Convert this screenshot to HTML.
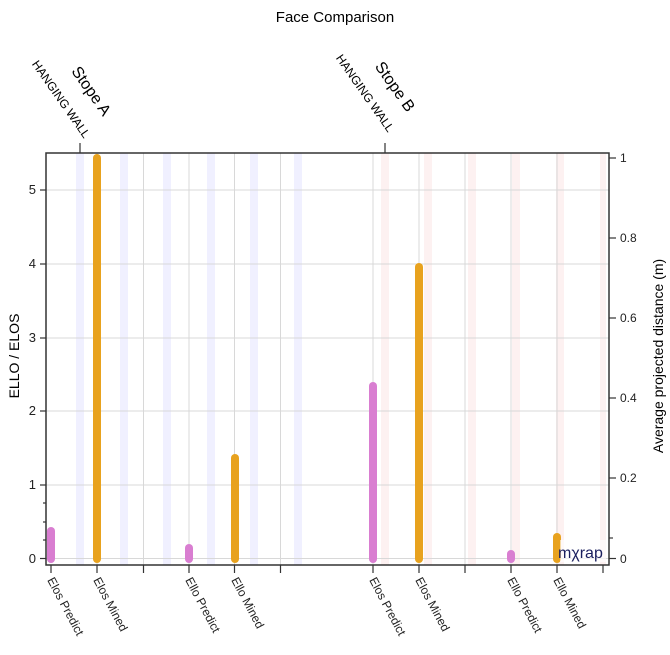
<!DOCTYPE html>
<html><head><meta charset="utf-8"><style>
body{margin:0;background:#fff}
svg{display:block;font-family:"Liberation Sans",sans-serif}
</style></head><body>
<svg width="670" height="655" viewBox="0 0 670 655">
<text x="335" y="22" font-size="15" text-anchor="middle">Face Comparison</text>
<g fill="#f0f0ff">
<rect x="76" y="153" width="8" height="412"/><rect x="120" y="153" width="8" height="412"/><rect x="163" y="153" width="8" height="412"/><rect x="207" y="153" width="8" height="412"/><rect x="250" y="153" width="8" height="412"/><rect x="294" y="153" width="8" height="412"/>
</g>
<g fill="#fdf1f1">
<rect x="381" y="153" width="8" height="412"/><rect x="424" y="153" width="8" height="412"/><rect x="468" y="153" width="8" height="412"/><rect x="512" y="153" width="8" height="412"/><rect x="556" y="153" width="8" height="412"/><rect x="600" y="153" width="6" height="412"/>
</g>
<g stroke="#d8d8d8" stroke-width="1">
<line x1="46" x2="609" y1="558.5" y2="558.5"/><line x1="46" x2="609" y1="485" y2="485"/><line x1="46" x2="609" y1="411" y2="411"/><line x1="46" x2="609" y1="338" y2="338"/><line x1="46" x2="609" y1="264" y2="264"/><line x1="46" x2="609" y1="190" y2="190"/>
<line x1="97" x2="97" y1="153" y2="565"/><line x1="143.5" x2="143.5" y1="153" y2="565"/><line x1="189" x2="189" y1="153" y2="565"/><line x1="234.5" x2="234.5" y1="153" y2="565"/><line x1="280.5" x2="280.5" y1="153" y2="565"/><line x1="373" x2="373" y1="153" y2="565"/><line x1="419" x2="419" y1="153" y2="565"/><line x1="465" x2="465" y1="153" y2="565"/><line x1="511" x2="511" y1="153" y2="565"/><line x1="557" x2="557" y1="153" y2="565"/>
</g>
<g stroke-width="8" stroke-linecap="round">
<line x1="51" x2="51" y1="559" y2="531" stroke="#d97ed1"/>
<line x1="97" x2="97" y1="559" y2="158" stroke="#e8a21e"/>
<line x1="189" x2="189" y1="559" y2="548" stroke="#d97ed1"/>
<line x1="235" x2="235" y1="559" y2="458" stroke="#e8a21e"/>
<line x1="373" x2="373" y1="559" y2="386" stroke="#d97ed1"/>
<line x1="419" x2="419" y1="559" y2="267" stroke="#e8a21e"/>
<line x1="511" x2="511" y1="559" y2="554" stroke="#d97ed1"/>
<line x1="557" x2="557" y1="559" y2="537" stroke="#e8a21e"/>
</g>
<rect x="560" y="540" width="46" height="22" fill="#fff" opacity="0.6"/>
<text x="558" y="558" font-size="16" fill="#1a1f5e">mχrap</text>
<rect x="46" y="153" width="563" height="412" fill="none" stroke="#333" stroke-width="1.5"/>
<g stroke="#333" stroke-width="1.2">
<line x1="40" x2="46" y1="558.5" y2="558.5"/><line x1="40" x2="46" y1="485" y2="485"/><line x1="40" x2="46" y1="411" y2="411"/><line x1="40" x2="46" y1="338" y2="338"/><line x1="40" x2="46" y1="264" y2="264"/><line x1="40" x2="46" y1="190" y2="190"/>
<line x1="43" x2="46" y1="540" y2="540"/><line x1="43" x2="46" y1="522" y2="522"/><line x1="43" x2="46" y1="503" y2="503"/>
<line x1="609" x2="616" y1="558.5" y2="558.5"/><line x1="609" x2="616" y1="478" y2="478"/><line x1="609" x2="616" y1="398" y2="398"/><line x1="609" x2="616" y1="318" y2="318"/><line x1="609" x2="616" y1="238" y2="238"/><line x1="609" x2="616" y1="158" y2="158"/>
<line x1="609" x2="613" y1="538" y2="538"/>
<line x1="51" x2="51" y1="565" y2="573"/><line x1="97" x2="97" y1="565" y2="573"/><line x1="143.5" x2="143.5" y1="565" y2="573"/><line x1="189" x2="189" y1="565" y2="573"/><line x1="234.5" x2="234.5" y1="565" y2="573"/><line x1="280.5" x2="280.5" y1="565" y2="573"/><line x1="373" x2="373" y1="565" y2="573"/><line x1="419" x2="419" y1="565" y2="573"/><line x1="465" x2="465" y1="565" y2="573"/><line x1="511" x2="511" y1="565" y2="573"/><line x1="557" x2="557" y1="565" y2="573"/><line x1="603" x2="603" y1="565" y2="573"/>
<line x1="80" x2="80" y1="143" y2="153"/><line x1="385" x2="385" y1="143" y2="153"/>
</g>
<g font-size="13" fill="#222" text-anchor="end">
<text x="36" y="563">0</text><text x="36" y="489">1</text><text x="36" y="415">2</text><text x="36" y="342">3</text><text x="36" y="268">4</text><text x="36" y="194">5</text>
</g>
<g font-size="12" fill="#222">
<text x="620" y="563">0</text><text x="620" y="482">0.2</text><text x="620" y="402">0.4</text><text x="620" y="322">0.6</text><text x="620" y="242">0.8</text><text x="620" y="162">1</text>
</g>
<text transform="translate(19,356) rotate(-90)" font-size="14" text-anchor="middle">ELLO / ELOS</text>
<text transform="translate(663,356) rotate(-90)" font-size="14" text-anchor="middle">Average projected distance (m)</text>
<text transform="translate(103,117) rotate(55)" font-size="16" text-anchor="end">Stope A</text>
<text transform="translate(84,139) rotate(55)" font-size="12" text-anchor="end">HANGING WALL</text>
<text transform="translate(407,113) rotate(55)" font-size="16" text-anchor="end">Stope B</text>
<text transform="translate(388,133) rotate(55)" font-size="12" text-anchor="end">HANGING WALL</text>
<g font-size="12" fill="#222">
<text transform="translate(47,580) rotate(62)">Elos Predict</text>
<text transform="translate(93,580) rotate(62)">Elos Mined</text>
<text transform="translate(185,580) rotate(62)">Ello Predict</text>
<text transform="translate(231,580) rotate(62)">Ello Mined</text>
<text transform="translate(369,580) rotate(62)">Elos Predict</text>
<text transform="translate(415,580) rotate(62)">Elos Mined</text>
<text transform="translate(507,580) rotate(62)">Ello Predict</text>
<text transform="translate(553,580) rotate(62)">Ello Mined</text>
</g>
</svg>
</body></html>
